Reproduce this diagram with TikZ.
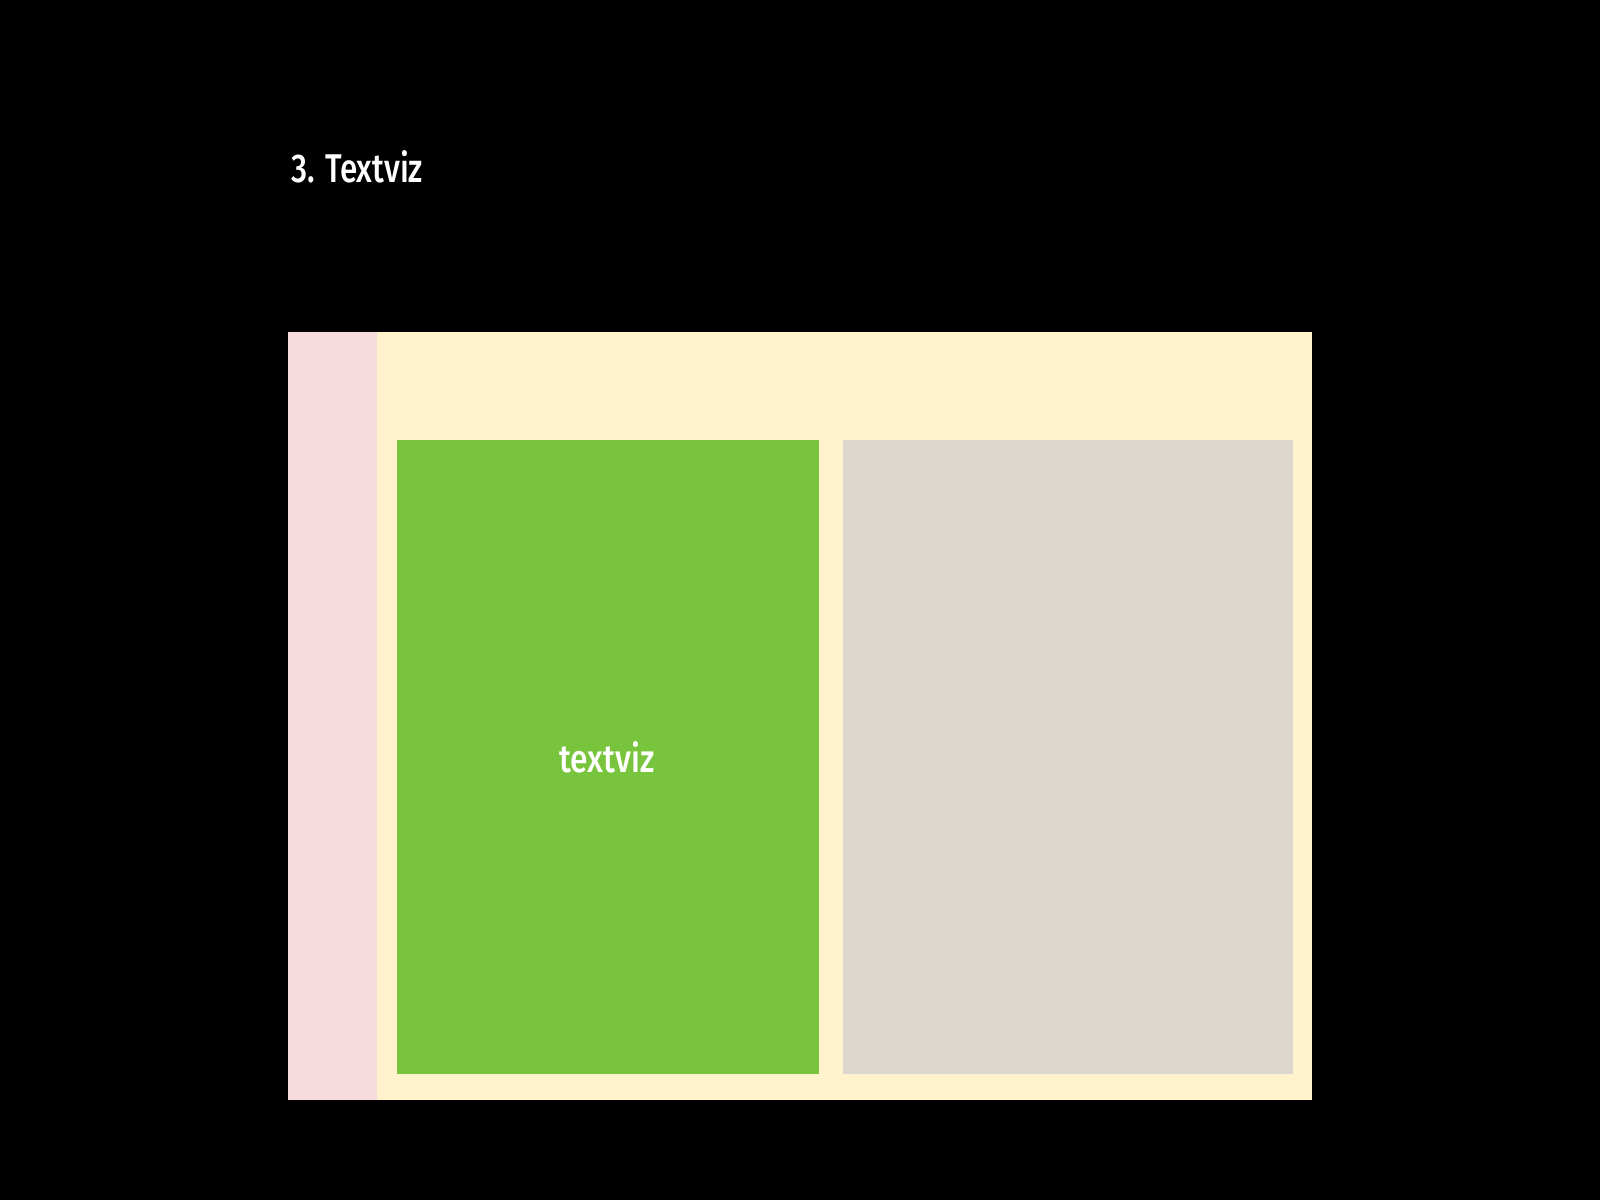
\documentclass[tikz,border=0pt]{standalone}
\usepackage{fontspec}
\setmainfont{Fira Sans}[BoldFont={* Medium}]
\usepackage{graphicx}
\definecolor{pinkc}{RGB}{248,219,221}
\definecolor{yellowc}{RGB}{255,242,205}
\definecolor{greenc}{RGB}{120,197,61}
\definecolor{grayc}{RGB}{219,215,207}
\tikzset{panel/.style={inner sep=0pt, outer sep=0pt, draw=none}}
\begin{document}
\begin{tikzpicture}[x=1pt,y=-1pt]
\fill[black] (0,0) rectangle (1600,1200);
\useasboundingbox (0,0) rectangle (1600,1200);
\fill[yellowc] (288,332) rectangle (1312,1100);
\fill[pinkc] (288,332) rectangle (377,1100);
\fill[greenc] (397,440) rectangle (819,1074);
\fill[grayc] (843,440) rectangle (1293,1074);
\node[panel, anchor=south west, text=white] (title) at (291,183) {\resizebox{132pt}{32pt}{\bfseries 3. Textviz}};
\node[panel, text=white] (lbl) at (607,757.5) {\resizebox{95pt}{31pt}{\bfseries textviz}};
\end{tikzpicture}
\end{document}
